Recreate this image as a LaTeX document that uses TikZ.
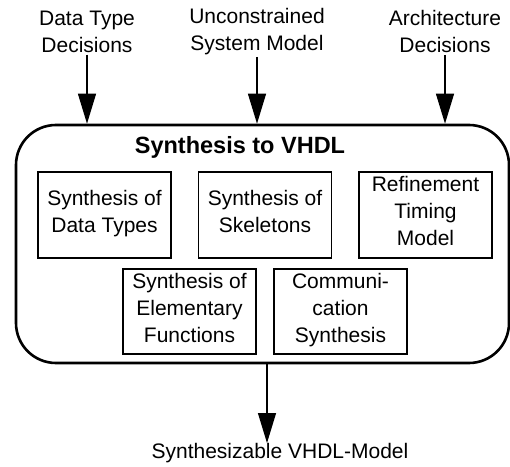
\documentclass[tikz,border=0pt]{standalone}
\usepackage{fontspec}
\setmainfont{Liberation Sans}
\usepackage{tikz}
\usetikzlibrary{arrows.meta}

\begin{document}
\begin{tikzpicture}[x=1pt,y=1pt,font=\fontsize{21}{27}\selectfont]
    \tikzstyle{frame} = [draw,line width=2.6pt,rounded corners=40pt,minimum width=493pt,minimum height=238pt]
\tikzstyle{block} = [draw,line width=1.1pt,align=center,minimum width=133pt,minimum height=86pt,node distance=160.5pt,execute at begin node=\strut,execute at end node=\strut]
\tikzstyle{block2} = [block,minimum height=85pt,node distance=151pt]
\tikzstyle{io} = [align=center,inner sep=2pt]
\tikzstyle{flow} = [line width=1.2pt,-{Triangle[length=30pt,width=18pt]}]

\useasboundingbox (0,0) rectangle (510,466);

\node[frame] (synth) at (262.5,222) {};
\node[font=\fontsize{23.5}{28}\selectfont\bfseries] (title) at (240,319) {Synthesis to VHDL};

\node[block] (types) at (104.5,251) {Synthesis of\\Data Types};
\node[block,right of=types] (skel) {Synthesis of\\Skeletons};
\node[block,right of=skel] (timing) {Refinement\\Timing\\Model};

\node[block2] (elem) at (189.5,154.5) {Synthesis of\\Elementary\\Functions};
\node[block2,right of=elem] (comm) {Communi-\\cation\\Synthesis};

% inputs and output
\node[io] (dtype) at (87,434.5) {Data Type\\Decisions};
\node[io] (sysmod) at (257,434.5) {Unconstrained\\System Model};
\node[io] (arch) at (445,434.5) {Architecture\\Decisions};
\node[io] (vhdl) at (280,13) {Synthesizable VHDL-Model};
\coordinate (out) at (267,103);

\draw[flow] (dtype) -- (dtype |- synth.north);
\draw[flow] (sysmod) -- (sysmod |- synth.north);
\draw[flow] (arch) -- (arch |- synth.north);
\draw[flow] (out) -- ([yshift=-2pt]out |- vhdl.north);

\end{tikzpicture}
\end{document}
